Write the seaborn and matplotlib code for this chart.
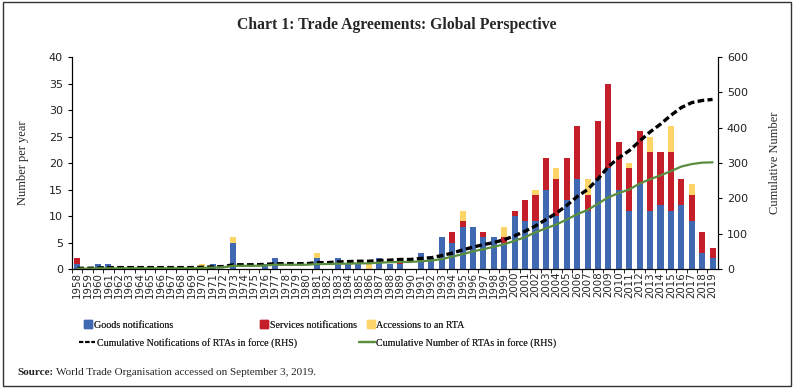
import numpy as np
import pandas as pd
import matplotlib
matplotlib.use("Agg")
import matplotlib.pyplot as plt
import seaborn as sns
from matplotlib.patches import Patch, Rectangle
from matplotlib.lines import Line2D

# data
years = list(range(1958, 2020))
goods = [1, 0, 1, 1, 0, 0, 0, 0, 0, 0, 0, 0, 0, 1, 0, 5, 0, 0, 1, 2,
         0, 0, 0, 2, 0, 2, 1, 1, 0, 2, 1, 1, 0, 3, 2, 6, 5, 8, 8, 6,
         6, 5, 10, 9, 9, 15, 10, 13, 17, 11, 17, 19, 15, 11, 16, 11, 12, 11, 12, 9,
         3, 2]
services = [1, 0, 0, 0, 0, 0, 0, 0, 0, 0, 0, 0, 0, 0, 0, 0, 0, 0, 0, 0,
            0, 0, 0, 0, 0, 0, 0, 0, 0, 0, 0, 1, 0, 0, 0, 0, 2, 1, 0, 1,
            0, 1, 1, 4, 5, 6, 7, 8, 10, 3, 11, 16, 9, 8, 10, 11, 10, 11, 5, 5,
            4, 2]
accessions = [0, 0, 0, 0, 0, 0, 0, 0, 0, 0, 0, 0, 1, 0, 0, 1, 0, 0, 0, 0,
              0, 0, 0, 1, 0, 0, 0, 0, 1, 0, 0, 0, 0, 0, 0, 0, 0, 2, 0, 0,
              0, 2, 0, 0, 1, 0, 2, 0, 0, 3, 0, 0, 0, 1, 0, 3, 0, 5, 0, 2,
              0, 0]
cum_notifications = [2, 2, 3, 4, 4, 4, 4, 4, 4, 4, 4, 4, 5, 6, 7, 12, 12, 12, 13, 15,
                     15, 15, 15, 18, 18, 20, 21, 22, 22, 24, 25, 27, 27, 30, 32, 38, 45, 54, 62, 69,
                     75, 83, 94, 107, 122, 140, 158, 180, 205, 225, 255, 290, 315, 335, 362, 388, 410, 435, 457, 471,
                     477, 480]
cum_rtas = [1, 1, 2, 2, 2, 2, 2, 2, 2, 2, 2, 2, 3, 4, 5, 9, 9, 9, 10, 12,
            12, 12, 12, 14, 14, 15, 15, 16, 16, 18, 19, 20, 20, 22, 24, 28, 35, 42, 50, 56,
            63, 70, 80, 90, 104, 115, 126, 140, 155, 167, 185, 203, 215, 225, 242, 254, 265, 277, 290, 297,
            301, 302]

df = pd.DataFrame({"year": [str(y) for y in years], "goods": goods,
                   "services": services, "acc": accessions})
df["gs"] = df["goods"] + df["services"]
df["total"] = df["gs"] + df["acc"]
pos = np.arange(len(years))

blue = "#4169B2"
red = "#C41E2A"
yellow = "#FDD468"
green = "#5A8E3E"
serif = "Liberation Serif"

sns.set_style("ticks")
plt.rcParams["font.family"] = ["DejaVu Sans"]

fig = plt.figure(figsize=(7.94, 3.88), dpi=100)
ax = fig.add_axes([0.0907, 0.3067, 0.8133, 0.5463])

# stacked bars drawn back to front
for col, c in (("total", yellow), ("gs", red), ("goods", blue)):
    sns.barplot(data=df, x="year", y=col, color=c, width=0.58, saturation=1,
                linewidth=0, ax=ax)

ax.set_xlim(-0.5, len(years) - 0.5)
ax.set_ylim(0, 40)
ax.set_yticks(range(0, 41, 5))
ax.set_xlabel("")
ax.set_ylabel("Number per year", family=serif, fontsize=9)
ax.yaxis.set_label_coords(-0.066, 0.5)
ax.tick_params(axis="x", labelrotation=90, labelsize=7.4, length=0, pad=2)
ax.tick_params(axis="y", labelsize=8, length=3, color="black", colors="#222222")
ax.set_xticks(pos - 0.5, minor=True)
ax.tick_params(axis="x", which="minor", length=3, color="black")

ax2 = ax.twinx()
sns.lineplot(x=pos, y=cum_notifications, ax=ax2, color="black", linewidth=2.4,
             linestyle=(0, (2.0, 1.0)), legend=False)
sns.lineplot(x=pos, y=cum_rtas, ax=ax2, color=green, linewidth=1.6, legend=False)
ax2.set_ylim(0, 600)
ax2.set_yticks(range(0, 601, 100))
ax2.set_ylabel("Cumulative Number", family=serif, fontsize=9)
ax2.yaxis.set_label_coords(1.08, 0.5)
ax2.tick_params(axis="y", labelsize=8, length=3, color="black", colors="#222222")

for a in (ax, ax2):
    a.spines["top"].set_visible(False)
    for s in ("left", "right", "bottom"):
        a.spines[s].set_color("black")
        a.spines[s].set_linewidth(0.8)

fig.text(0.5, 0.935, "Chart 1: Trade Agreements: Global Perspective",
         ha="center", va="center", family=serif, fontsize=11.3, fontweight="bold")

# legend entries placed one by one like the original
entries = [
    (Patch(color=blue), "Goods notifications", 0.106, 0.162),
    (Patch(color=red), "Services notifications", 0.328, 0.162),
    (Patch(color=yellow), "Accessions to an RTA", 0.462, 0.162),
    (Line2D([], [], color="black", lw=1.5, linestyle=(0, (2, 1))),
     "Cumulative Notifications of RTAs in force (RHS)", 0.100, 0.116),
    (Line2D([], [], color=green, lw=1.6),
     "Cumulative Number of RTAs in force (RHS)", 0.452, 0.116),
]
for handle, label, x, y in entries:
    is_line = isinstance(handle, Line2D)
    leg = fig.legend([handle], [label], loc="center left", bbox_to_anchor=(x, y),
                     frameon=False, prop={"family": serif, "size": 7.2},
                     handlelength=1.6 if is_line else 0.8, handleheight=0.8,
                     handletextpad=0.15, borderpad=0, borderaxespad=0)
    fig.add_artist(leg)

fig.text(0.022, 0.041, "Source:", family=serif, fontsize=8, fontweight="bold", va="center")
fig.text(0.071, 0.041, "World Trade Organisation accessed on September 3, 2019.",
         family=serif, fontsize=8, va="center")

fig.add_artist(Rectangle((0.004, 0.006), 0.992, 0.988, transform=fig.transFigure,
                         fill=False, edgecolor="#333333", linewidth=1))

fig.savefig("out.png", dpi=100)
